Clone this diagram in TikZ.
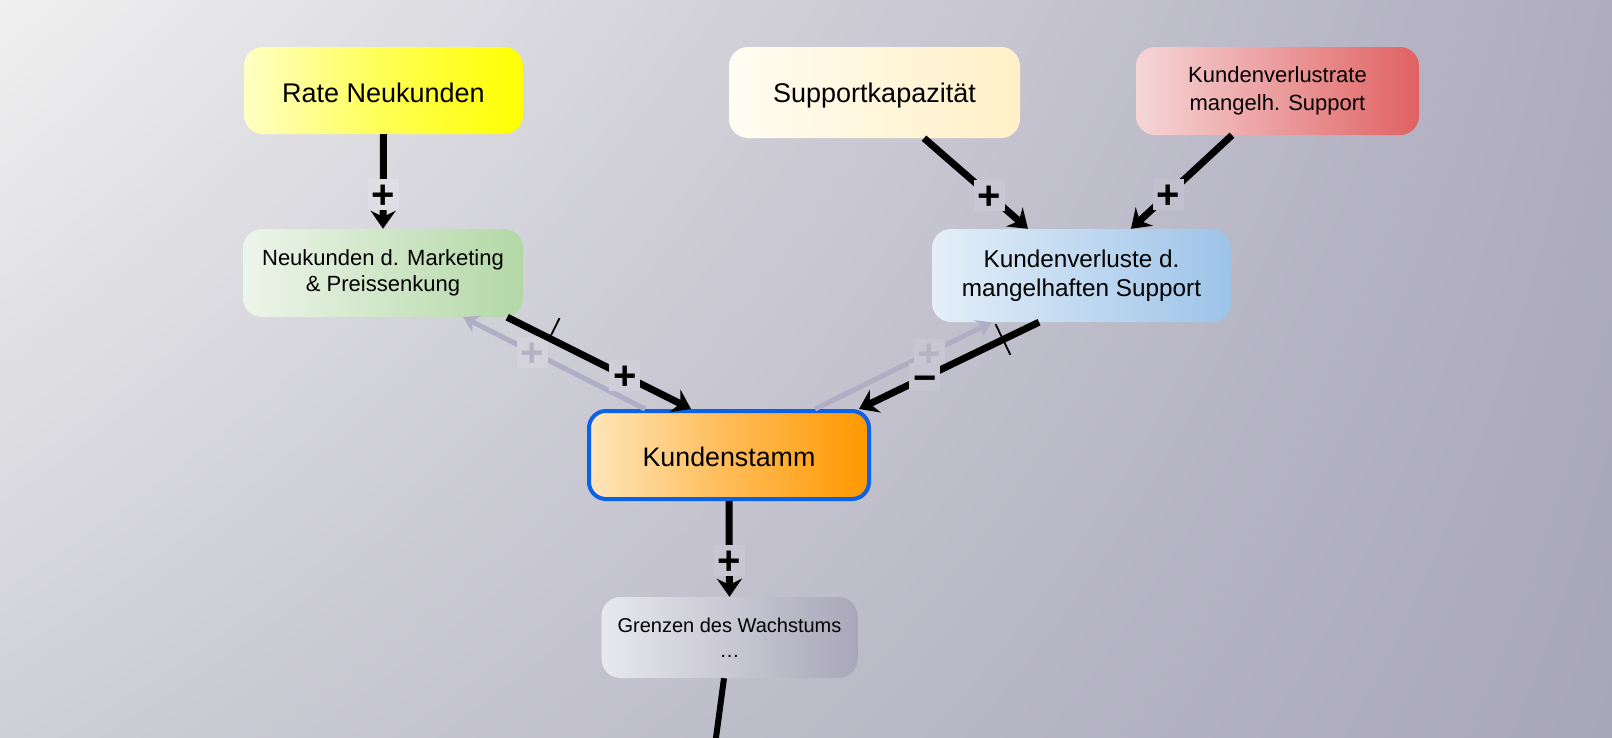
\documentclass[tikz,border=0pt]{standalone}
\usepackage{fontspec}
\setmainfont{Liberation Sans}
\usetikzlibrary{arrows.meta,shadings}
\definecolor{rnL}{HTML}{FFFFC4}
\definecolor{rnM}{HTML}{FFFF55}
\definecolor{rnR}{HTML}{FFFF00}
\definecolor{nmL}{HTML}{EDF5EA}
\definecolor{nmR}{HTML}{B3D8A6}
\definecolor{skL}{HTML}{FFFCF2}
\definecolor{skR}{HTML}{FFF0C6}
\definecolor{kvrL}{HTML}{F6D6D8}
\definecolor{kvrR}{HTML}{E06262}
\definecolor{kvL}{HTML}{E4EFF9}
\definecolor{kvR}{HTML}{9DC3E8}
\definecolor{ksL}{HTML}{FFE6BD}
\definecolor{ksM}{HTML}{FFBB55}
\definecolor{ksR}{HTML}{FF9800}
\definecolor{ksB}{HTML}{0A62E6}
\definecolor{gwL}{HTML}{E8E8EE}
\definecolor{gwR}{HTML}{A9A7B9}
\definecolor{bgTL}{HTML}{F0F0F0}
\definecolor{bgTR}{HTML}{AEACBE}
\definecolor{bgBL}{HTML}{CFCFD7}
\definecolor{bgBR}{HTML}{A8A6B9}
\definecolor{greyline}{HTML}{B0AEC4}
\definecolor{greylbl}{HTML}{B4B2C4}
\definecolor{lfA}{RGB}{222,222,228}
\definecolor{lfB}{RGB}{200,199,211}
\definecolor{lfC}{RGB}{194,192,206}
\definecolor{lfD}{RGB}{208,207,217}
\definecolor{lfE}{RGB}{212,211,220}
\definecolor{lfF}{RGB}{198,197,209}
\definecolor{lfG}{RGB}{199,198,210}
\definecolor{lfH}{RGB}{199,198,210}
\begin{document}
\begin{tikzpicture}[x=1pt,y=-1pt,
  box/.style={rounded corners=19pt, inner sep=0pt, align=center, text=black},
  conn/.style={line width=7pt, draw=black, -{Stealth[length=18pt,width=25pt,inset=6pt]}},
  back/.style={line width=5pt, draw=greyline, -{Stealth[length=15pt,width=19pt,inset=5pt]}},
  lbl/.style={fill=#1, minimum width=31pt, minimum height=31pt, inner sep=0pt,
    text height=28pt, text depth=0pt,
    font=\fontsize{40}{40}\selectfont\bfseries, text=black},
  glbl/.style={lbl=#1, text=greylbl},
  delaybar/.style={sloped, fill=black, draw=none, inner sep=0pt, minimum width=1.8pt, minimum height=#1},
]
\useasboundingbox (0,0) rectangle (1612,737);
\clip (0,0) rectangle (1612,737);
\shade[upper left=bgTL, upper right=bgTR, lower left=bgBL, lower right=bgBR] (0,0) rectangle (1612,737);

% nodes
\node[box, minimum width=279pt, minimum height=87pt, left color=rnL, right color=rnR, middle color=rnM,
  font=\fontsize{27}{31}\selectfont, text height=24pt] (rn) at (383.5,90.5) {Rate Neukunden};
\node[box, minimum width=280pt, minimum height=88pt, left color=nmL, right color=nmR,
  font=\fontsize{22}{26.5}\selectfont] (nm) at (383,273) {Neukunden d. Marketing\\\& Preissenkung};
\node[box, minimum width=291pt, minimum height=91pt, left color=skL, right color=skR,
  font=\fontsize{27}{31}\selectfont, text height=26pt, text depth=6pt] (sk) at (874.5,92.5) {Supportkapazität};
\node[box, minimum width=283pt, minimum height=88pt, left color=kvrL, right color=kvrR,
  font=\fontsize{22}{27.5}\selectfont] (kvr) at (1277.5,91) {Kundenverlustrate\\mangelh. Support};
\node[box, minimum width=299pt, minimum height=93pt, left color=kvL, right color=kvR,
  font=\fontsize{24.3}{28.5}\selectfont] (kv) at (1081.5,275.5) {Kundenverluste d.\\mangelhaften Support};
\node[box, minimum width=280pt, minimum height=88pt, left color=ksL, right color=ksR, middle color=ksM,
  draw=ksB, line width=4pt, rounded corners=17pt,
  font=\fontsize{26.8}{31}\selectfont, text height=24pt] (ks) at (729,455) {Kundenstamm};
\node[box, minimum width=256pt, minimum height=81pt, left color=gwL, right color=gwR,
  font=\fontsize{20}{25}\selectfont] (gw) at (729.5,637.5) {Grenzen des Wachstums\\…};
\coordinate (offpage) at (713,760);

% grey (feedback) connectors
\draw[back] ([xshift=58pt]ks.north west) -- node[glbl=lfE, pos=0.62] {+} ([xshift=-60pt]nm.south east);
\draw[back] ([xshift=86pt]ks.north) -- node[glbl=lfG, pos=0.645, minimum height=26pt] {+} ([xshift=60pt]kv.south west);

% black connectors
\draw[conn] (rn.south) -- node[lbl=lfA, pos=0.64] {+} (nm.north);
\draw[conn] ([xshift=49.5pt]sk.south) -- node[lbl=lfB, pos=0.63] {+} ([xshift=-53.5pt]kv.north);
\draw[conn] ([xshift=-45.5pt]kvr.south) -- node[lbl=lfC, pos=0.63] {+} ([xshift=49.5pt]kv.north);
\draw[conn] ([xshift=-16pt]nm.south east) --
  node[delaybar=19pt, anchor=south, pos=0.23] {}
  node[lbl=lfD, pos=0.64] {+} ([xshift=104pt]ks.north west);
\draw[conn] ([xshift=-42.5pt]kv.south) --
  node[delaybar=34pt, pos=0.2] {}
  node[lbl=lfF, pos=0.635, minimum height=20pt] {−} ([xshift=-12pt]ks.north east);
\draw[conn] (ks.south) -- node[lbl=lfH, pos=0.625] {+} (gw.north);
\draw[line width=6pt] ([xshift=-5.5pt]gw.south) -- (offpage);
\end{tikzpicture}
\end{document}
